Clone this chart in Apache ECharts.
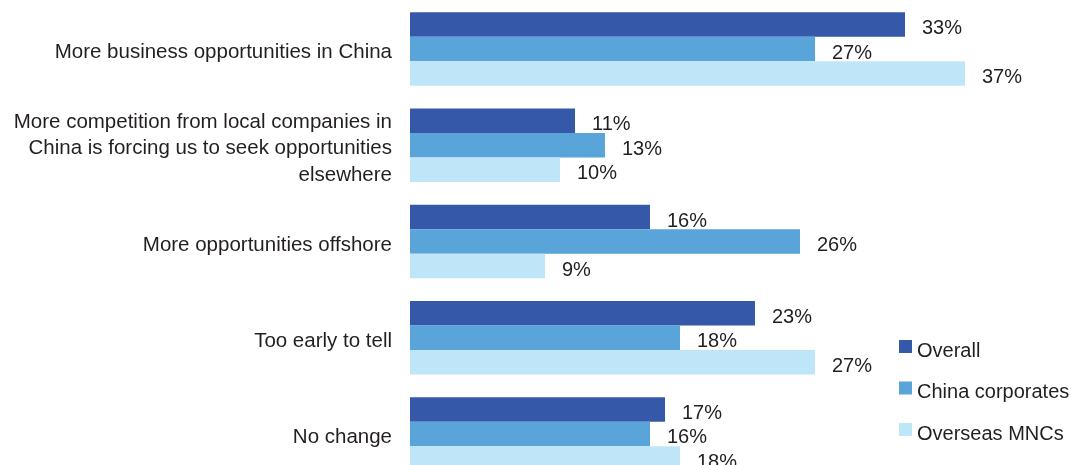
<!DOCTYPE html>
<html>
<head>
<meta charset="utf-8">
<script src="https://cdn.jsdelivr.net/npm/echarts@6/dist/echarts.min.js"></script>
<style>
  html, body { margin: 0; padding: 0; background: #ffffff; }
  #chart { width: 1071px; height: 465px; }
</style>
</head>
<body>
<div id="chart"></div>
<script>
// Survey responses, percent of respondents
const categories = [
  'More business opportunities in China',
  'More competition from local companies in\nChina is forcing us to seek opportunities\nelsewhere',
  'More opportunities offshore',
  'Too early to tell',
  'No change'
];
const seriesNames = ['Overall', 'China corporates', 'Overseas MNCs'];
const overall = [33, 11, 16, 23, 17];
const chinaCorporates = [27, 13, 26, 18, 16];
const overseasMNCs = [37, 10, 9, 27, 18];

const colors = ['#3558a8', '#59a5d9', '#bee6f8'];
const textColor = '#231f20';
const fontFamily = '"Liberation Sans", Arial, sans-serif';

// legend swatch: a 13px square sitting at the top of a taller symbol box,
// so the legend text lands a little below the square's centre
const swatchIcon = 'path://M0,0h13v13h-13zM0,22h0.01v0.01h-0.01z';

const chart = echarts.init(document.getElementById('chart'));

function barSeries(name, data, color) {
  return {
    name: name,
    type: 'bar',
    data: data,
    barWidth: 24.5,
    barGap: '0%',
    itemStyle: { color: color },
    label: {
      show: true,
      position: 'right',
      distance: 17,
      offset: [0, 4],
      formatter: '{c}%',
      color: textColor,
      fontSize: 20,
      fontFamily: fontFamily
    },
    emphasis: { disabled: true }
  };
}

// category text sits slightly below the group centre: a thin spacer line on top
function categoryLabel(value) {
  return '{s|\u00a0}\n' + value.split('\n').map(function (line) {
    return '{a|' + line + '}';
  }).join('\n');
}

chart.setOption({
  animation: false,
  backgroundColor: '#ffffff',
  // the last group runs past the bottom edge
  grid: {
    left: 410,
    top: 1,
    width: 660,
    height: 481,
    containLabel: false,
    outerBoundsMode: 'none'
  },
  xAxis: {
    type: 'value',
    min: 0,
    max: 44,
    show: false
  },
  yAxis: {
    type: 'category',
    data: categories,
    inverse: true,
    axisLine: { show: false },
    axisTick: { show: false },
    splitLine: { show: false },
    axisLabel: {
      margin: 18,
      align: 'right',
      formatter: categoryLabel,
      rich: {
        s: { fontSize: 4, lineHeight: 7 },
        a: {
          color: textColor,
          fontSize: 20.5,
          lineHeight: 26.5,
          align: 'right',
          fontFamily: fontFamily
        }
      }
    }
  },
  legend: {
    orient: 'vertical',
    left: 899,
    top: 340,
    padding: 0,
    icon: swatchIcon,
    itemWidth: 13,
    itemHeight: 22,
    itemGap: 19.5,
    textStyle: {
      color: textColor,
      fontSize: 20,
      lineHeight: 20,
      fontFamily: fontFamily
    },
    data: seriesNames
  },
  series: [
    barSeries(seriesNames[0], overall, colors[0]),
    barSeries(seriesNames[1], chinaCorporates, colors[1]),
    barSeries(seriesNames[2], overseasMNCs, colors[2])
  ]
});
</script>
</body>
</html>
